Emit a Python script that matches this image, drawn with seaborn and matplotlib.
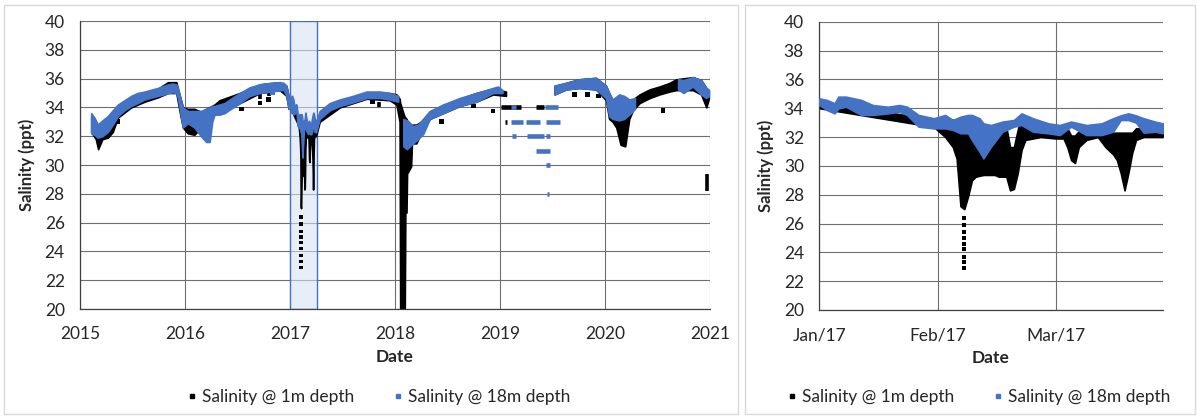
import matplotlib
matplotlib.use("Agg")
import matplotlib.pyplot as plt
import matplotlib.dates as mdates
from matplotlib.lines import Line2D
from matplotlib.patches import Rectangle
import numpy as np
import pandas as pd
import seaborn as sns

# ---------------------------------------------------------------- data
# 18 m logger, long record: low/high envelope of the dense point cloud
deep_dates = [
    "2015-02-09", "2015-02-20", "2015-03-04", "2015-03-20", "2015-04-08", "2015-04-25",
    "2015-05-13", "2015-06-05", "2015-06-28", "2015-07-20", "2015-08-14", "2015-09-10",
    "2015-09-29", "2015-10-20", "2015-11-03", "2015-11-20", "2015-12-02", "2015-12-08",
    "2015-12-13", "2015-12-25", "2016-01-11", "2016-02-03", "2016-02-26", "2016-03-15",
    "2016-03-27", "2016-04-05", "2016-04-13", "2016-05-01", "2016-05-18", "2016-06-05",
    "2016-07-10", "2016-08-14", "2016-09-18", "2016-10-22", "2016-11-26", "2016-12-10",
    "2016-12-19", "2016-12-27",
    "2017-04-14", "2017-05-19", "2017-06-23", "2017-08-08", "2017-09-24", "2017-11-09",
    "2017-12-13", "2018-01-12",
    "2018-01-30", "2018-02-11", "2018-03-05", "2018-03-22", "2018-04-09", "2018-05-02",
    "2018-06-17", "2018-08-14", "2018-10-11", "2018-12-08", "2018-12-25", "2019-01-10",
    "2019-07-10", "2019-08-19", "2019-10-04", "2019-12-01", "2020-01-05", "2020-01-16",
    "2020-01-28", "2020-02-20", "2020-03-08", "2020-03-26", "2020-04-15",
    "2020-09-12", "2020-10-01", "2020-11-02", "2020-12-01", "2020-12-19", "2020-12-28",
]
deep_low = [
    32.2, 32.1, 31.9, 32.0, 32.3, 32.8, 33.4, 33.8, 34.1, 34.3, 34.55, 34.7,
    34.8, 34.9, 35.0, 35.05, 35.0, 34.6, 34.0, 32.6, 32.9, 32.6, 32.0, 31.6,
    31.6, 33.0, 33.5, 33.5, 33.6, 33.85, 34.3, 34.8, 35.0, 35.1, 35.2, 35.2,
    34.8, 33.9,
    33.2, 33.8, 34.1, 34.35, 34.65, 34.65, 34.55, 34.4,
    31.3, 31.1, 31.5, 31.8, 32.15, 33.2, 33.6, 34.1, 34.4, 35.0, 35.0, 35.0,
    34.9, 35.25, 35.35, 35.25, 34.65, 33.4, 33.2, 33.1, 33.2, 33.5, 33.9,
    35.25, 35.0, 35.45, 34.9, 34.65, 34.8,
]
deep_high = [
    33.6, 33.3, 32.8, 33.1, 33.4, 33.8, 34.2, 34.5, 34.8, 35.0, 35.1, 35.25,
    35.35, 35.5, 35.6, 35.65, 35.6, 35.3, 34.9, 34.0, 33.75, 33.75, 33.75, 33.9,
    34.0, 34.1, 34.1, 34.2, 34.3, 34.55, 35.0, 35.4, 35.6, 35.7, 35.75, 35.7,
    35.5, 34.8,
    33.75, 34.3, 34.55, 34.8, 35.1, 35.1, 35.0, 34.8,
    33.2, 33.1, 32.7, 32.8, 33.2, 33.75, 34.2, 34.65, 35.0, 35.35, 35.45, 35.2,
    35.5, 35.7, 35.95, 36.05, 35.5, 35.0, 34.55, 34.9, 34.8, 34.55, 34.65,
    35.95, 35.9, 36.1, 35.9, 35.35, 35.2,
]
deep_breaks = ["2018-01-20", "2019-03-01", "2020-06-01"]

# 18 m logger, Jan-Mar 2017 in detail
deep_q1_dates = [
    "2017-01-01", "2017-01-03", "2017-01-05", "2017-01-06", "2017-01-08", "2017-01-12",
    "2017-01-15", "2017-01-19", "2017-01-22", "2017-01-24", "2017-01-27", "2017-01-31",
    "2017-02-03", "2017-02-05", "2017-02-07", "2017-02-09", "2017-02-10", "2017-02-12",
    "2017-02-13", "2017-02-15", "2017-02-18", "2017-02-21", "2017-02-23", "2017-02-26",
    "2017-03-02", "2017-03-05", "2017-03-08", "2017-03-12", "2017-03-16", "2017-03-19",
    "2017-03-21", "2017-03-23", "2017-03-25", "2017-03-27", "2017-03-30", "2017-04-01",
]
deep_q1_low = [
    34.22, 33.87, 33.64, 33.99, 34.1, 33.53, 33.53, 33.64, 33.76, 33.53, 32.72, 32.6,
    32.6, 32.49, 32.26, 32.26, 31.79, 30.98, 30.52, 31.33, 32.37, 32.72, 32.83, 32.37,
    32.26, 32.14, 32.72, 32.14, 32.14, 32.37, 33.18, 33.18, 33.0, 32.3, 32.37, 32.26,
]
deep_q1_high = [
    34.68, 34.57, 34.34, 34.8, 34.8, 34.57, 34.22, 34.1, 34.22, 34.1, 33.53, 33.3,
    33.53, 33.18, 33.41, 33.53, 33.53, 33.3, 32.95, 32.83, 33.07, 33.18, 33.64, 33.3,
    32.95, 32.83, 33.07, 32.83, 32.95, 33.3, 33.5, 33.64, 33.5, 33.3, 33.07, 32.95,
]

# 1 m logger, long record
shallow_dates = [
    "2015-02-09", "2015-02-25", "2015-03-05", "2015-03-20", "2015-04-08", "2015-04-25",
    "2015-05-13", "2015-06-28", "2015-08-14", "2015-09-29", "2015-11-03", "2015-12-02",
    "2015-12-13", "2015-12-25", "2016-01-11", "2016-02-03", "2016-02-26", "2016-03-15",
    "2016-04-13", "2016-05-01", "2016-07-10", "2016-09-18", "2016-11-26", "2016-12-19",
    "2016-12-27",
    "2017-04-14", "2017-06-23", "2017-09-24", "2017-12-13", "2018-01-06", "2018-01-17",
    "2018-01-19", "2018-02-04", "2018-02-06", "2018-02-10", "2018-02-12", "2018-02-26",
    "2018-03-01", "2018-03-16", "2018-04-01", "2018-05-02", "2018-08-14", "2018-10-11",
    "2018-12-08", "2019-01-22",
    "2019-07-10", "2019-08-19", "2019-10-04", "2019-12-01", "2020-01-05", "2020-01-16",
    "2020-01-28", "2020-02-10", "2020-02-25", "2020-03-12", "2020-03-26", "2020-04-08",
    "2020-05-01", "2020-06-05", "2020-07-09", "2020-08-13", "2020-09-05", "2020-11-02",
    "2020-12-01", "2020-12-19", "2020-12-28",
]
shallow_low = [
    32.3, 31.8, 31.1, 31.8, 31.9, 32.3, 33.3, 34.0, 34.4, 34.7, 35.0, 35.0,
    33.8, 32.6, 32.2, 32.1, 32.6, 33.0, 33.5, 33.6, 34.3, 35.0, 35.2, 34.8,
    33.9,
    33.0, 34.0, 34.6, 34.5, 34.2, 33.0, 20.0, 20.0, 26.7, 26.7, 29.4, 29.9,
    31.5, 31.5, 32.2, 33.2, 34.1, 34.4, 34.9, 34.8,
    34.9, 35.25, 35.35, 35.25, 34.5, 33.2, 33.0, 32.6, 31.4, 31.3, 33.2, 33.8,
    34.3, 34.65, 34.9, 35.1, 35.2, 35.2, 34.9, 34.0, 34.6,
]
shallow_high = [
    33.4, 33.0, 32.8, 33.0, 33.3, 33.7, 34.1, 34.7, 35.0, 35.3, 35.75, 35.75,
    34.9, 34.0, 33.9, 33.9, 33.7, 33.9, 34.2, 34.5, 35.0, 35.6, 35.75, 35.5,
    34.7,
    33.6, 34.5, 35.0, 35.0, 34.9, 34.6, 34.3, 33.3, 33.3, 33.2, 33.1, 32.8,
    32.8, 32.8, 33.0, 33.7, 34.6, 35.0, 35.3, 35.1,
    35.5, 35.7, 35.95, 36.05, 35.5, 35.0, 34.5, 34.6, 34.8, 34.7, 34.5, 34.55,
    34.9, 35.25, 35.45, 35.7, 35.95, 36.1, 35.9, 35.35, 35.2,
]
shallow_breaks = ["2019-03-01"]

# 1 m logger, Jan-Mar 2017 in detail
shallow_q1_dates = [
    "2017-01-01", "2017-01-31", "2017-02-03", "2017-02-05", "2017-02-06", "2017-02-07",
    "2017-02-08", "2017-02-09", "2017-02-10", "2017-02-11", "2017-02-13", "2017-02-16",
    "2017-02-17", "2017-02-19", "2017-02-20", "2017-02-21", "2017-02-22", "2017-02-23",
    "2017-02-24", "2017-02-28", "2017-03-04", "2017-03-06", "2017-03-07", "2017-03-08",
    "2017-03-09", "2017-03-10", "2017-03-12", "2017-03-15", "2017-03-17", "2017-03-19",
    "2017-03-20", "2017-03-21", "2017-03-22", "2017-03-23", "2017-03-24", "2017-03-25",
    "2017-03-27", "2017-04-01",
]
shallow_q1_low = [
    34.0, 32.7, 32.0, 31.3, 30.5, 27.2, 27.0, 27.9, 29.0, 29.25, 29.37, 29.37,
    29.25, 29.25, 28.3, 28.4, 29.5, 31.1, 31.8, 32.0, 31.9, 31.9, 31.3, 30.4,
    30.2, 31.3, 31.8, 32.0, 31.3, 30.8, 30.4, 29.5, 28.3, 29.5, 30.9, 31.8,
    32.0, 32.0,
]
shallow_q1_high = [
    34.5, 33.2, 33.2, 33.2, 33.0, 32.8, 32.6, 32.5, 32.6, 32.7, 32.4, 32.4,
    32.9, 32.7, 31.3, 31.3, 32.5, 33.4, 33.2, 32.6, 32.4, 32.6, 32.6, 32.1,
    32.1, 32.4, 32.5, 32.5, 32.6, 32.3, 32.3, 32.3, 32.3, 32.3, 32.3, 32.6,
    32.6, 32.6,
]

# isolated 1 m readings
shallow_pt_dates = [
    "2015-05-13", "2015-08-25", "2015-09-24", "2016-07-16", "2016-09-18", "2016-10-18",
    "2017-10-14", "2018-06-11", "2018-10-01", "2018-12-08", "2019-09-18", "2019-11-01",
    "2019-12-10", "2020-07-21",
]
shallow_pt_vals = [
    33.0, 34.75, 34.9, 33.9, 34.3, 34.55,
    34.4, 33.0, 34.1, 33.75, 34.9, 34.9, 34.8, 33.8,
]
# the string of low readings under the Feb 2017 dip
drop_dates = ["2017-02-08"] * 9
drop_vals = [26.4, 25.9, 25.4, 25.0, 24.6, 24.2, 23.7, 23.3, 22.9]
# short vertical streaks of 1 m readings
shallow_bar_dates = ["2016-09-18", "2016-10-18", "2017-11-06", "2020-12-20"]
shallow_bar_low = [34.6, 34.8, 34.0, 28.2]
shallow_bar_high = [35.2, 35.2, 34.4, 29.4]
# flat runs of coarse 2019 readings
shallow_run_start = ["2019-01-05", "2019-05-08", "2019-01-20"]
shallow_run_end = ["2019-03-16", "2019-06-05", "2019-01-26"]
shallow_run_val = [34.0, 34.0, 33.0]

deep_pt_dates = ["2016-10-31"]
deep_pt_vals = [35.0]
deep_run_start = ["2019-02-10", "2019-06-08", "2019-02-10", "2019-04-03", "2019-06-11",
                  "2019-02-12", "2019-04-06", "2019-06-11", "2019-05-08", "2019-06-11",
                  "2019-06-15"]
deep_run_end = ["2019-02-27", "2019-07-22", "2019-03-22", "2019-05-19", "2019-07-28",
                "2019-02-27", "2019-06-05", "2019-06-25", "2019-06-25", "2019-06-25",
                "2019-06-21"]
deep_run_val = [34.0, 34.0, 33.0, 33.0, 33.0, 32.0, 32.0, 32.0, 31.0, 30.0, 28.0]

focus_start, focus_end = "2017-01-01", "2017-04-05"
zoom_ticks = ["2017-01-01", "2017-02-01", "2017-03-04"]
zoom_tick_labels = ["Jan/17", "Feb/17", "Mar/17"]

SHALLOW = "#000000"
DEEP = "#4472C4"
GRID = "#6e6e6e"
AXIS = "#404040"
FS = 12.5

sns.set_theme(style="white")
plt.rcParams["font.family"] = ["Lato", "DejaVu Sans"]


def frame(dates, low, high):
    return pd.DataFrame({"date": pd.to_datetime(dates), "low": low, "high": high})


def draw_band(ax, df, breaks, color, z):
    df = df.sort_values("date")
    piece = np.searchsorted(pd.to_datetime(breaks).values, df["date"].values)
    for _, part in df.groupby(piece):
        ax.fill_between(part["date"], part["low"], part["high"], color=color,
                        lw=1.2, edgecolor=color, zorder=z)


def draw_runs(ax, start, end, val, color, z):
    ax.hlines(val, mdates.date2num(pd.to_datetime(start)), mdates.date2num(pd.to_datetime(end)),
              colors=color, lw=3.3, zorder=z)


def draw_dots(ax, dates, vals, color, size, z):
    sns.scatterplot(x=pd.to_datetime(dates), y=vals, marker="s", s=size, color=color,
                    edgecolor="none", ax=ax, legend=False, zorder=z)


def style(ax):
    ax.set_ylim(20, 40)
    ax.set_yticks(range(20, 41, 2))
    ax.grid(True, which="major", color=GRID, lw=0.8)
    ax.set_axisbelow(True)
    for s in ["top", "right"]:
        ax.spines[s].set_visible(False)
    for s in ["left", "bottom"]:
        ax.spines[s].set_color(AXIS)
        ax.spines[s].set_linewidth(0.9)
    ax.tick_params(axis="y", length=0, pad=11, labelsize=FS, labelcolor="#262626")
    ax.tick_params(axis="x", which="both", direction="inout", length=7, width=0.9,
                   color=AXIS, labelsize=FS, labelcolor="#262626", pad=9)
    ax.set_ylabel("Salinity (ppt)", fontweight="bold", fontsize=12, labelpad=7)
    ax.set_xlabel("Date", fontweight="bold", fontsize=12.5, labelpad=5)


W, H = 1197, 416
fig = plt.figure(figsize=(W / 100, H / 100), dpi=100)
fig.add_artist(Rectangle((4 / W, 2 / H), 734 / W, 409 / H, transform=fig.transFigure,
                         fill=False, edgecolor="#d9d9d9", lw=1))
fig.add_artist(Rectangle((745 / W, 2 / H), 450 / W, 409 / H, transform=fig.transFigure,
                         fill=False, edgecolor="#d9d9d9", lw=1))

ax1 = fig.add_axes([80 / W, 107 / H, 630 / W, 288 / H])
ax2 = fig.add_axes([819.3 / W, 106 / H, 343.4 / W, 288.3 / H])

deep_q1 = frame(deep_q1_dates, deep_q1_low, deep_q1_high)
shallow_q1 = frame(shallow_q1_dates, shallow_q1_low, shallow_q1_high)
deep_all = pd.concat([frame(deep_dates, deep_low, deep_high), deep_q1])
shallow_all = pd.concat([frame(shallow_dates, shallow_low, shallow_high), shallow_q1])

# ---- left: whole record
ax1.axvspan(pd.Timestamp(focus_start), pd.Timestamp(focus_end), facecolor=(0.85, 0.89, 0.95, 0.6),
            edgecolor=DEEP, lw=1, zorder=1)
draw_band(ax1, shallow_all, shallow_breaks, SHALLOW, 2)
ax1.vlines(mdates.date2num(pd.to_datetime(shallow_bar_dates)), shallow_bar_low, shallow_bar_high,
           colors=SHALLOW, lw=2.6, zorder=2)
draw_runs(ax1, shallow_run_start, shallow_run_end, shallow_run_val, SHALLOW, 2)
draw_dots(ax1, shallow_pt_dates, shallow_pt_vals, SHALLOW, 11, 2)
draw_dots(ax1, drop_dates, drop_vals, SHALLOW, 6, 2)
draw_band(ax1, deep_all, deep_breaks, DEEP, 3)
draw_runs(ax1, deep_run_start, deep_run_end, deep_run_val, DEEP, 3)
draw_dots(ax1, deep_pt_dates, deep_pt_vals, DEEP, 11, 3)

ax1.set_xlim(pd.Timestamp("2015-01-01"), pd.Timestamp("2021-01-01"))
ax1.xaxis.set_major_locator(mdates.YearLocator())
ax1.xaxis.set_major_formatter(mdates.DateFormatter("%Y"))
ax1.xaxis.set_minor_locator(mdates.MonthLocator(bymonth=[4, 7, 10]))
style(ax1)

# ---- right: Jan-Mar 2017 close-up
draw_band(ax2, shallow_q1, [], SHALLOW, 2)
draw_dots(ax2, drop_dates, drop_vals, SHALLOW, 8, 2)
draw_band(ax2, deep_q1, [], DEEP, 3)

ax2.set_xlim(pd.Timestamp("2017-01-01"), pd.Timestamp("2017-04-01"))
ax2.set_xticks(pd.to_datetime(zoom_ticks))
ax2.set_xticklabels(zoom_tick_labels)
ax2.xaxis.set_minor_locator(mdates.WeekdayLocator(byweekday=mdates.SU))
style(ax2)

handles = [
    Line2D([], [], ls="none", marker="s", ms=3, color=SHALLOW, label="Salinity @ 1m depth"),
    Line2D([], [], ls="none", marker="s", ms=3, color=DEEP, label="Salinity @ 18m depth"),
]
for cx in (377 / W, 977 / W):
    fig.legend(handles=handles, loc="center", bbox_to_anchor=(cx, 19 / H), ncol=2,
               frameon=False, fontsize=FS, handletextpad=0.1, columnspacing=2.0,
               handlelength=1.0)

fig.savefig("out.png", dpi=100)
